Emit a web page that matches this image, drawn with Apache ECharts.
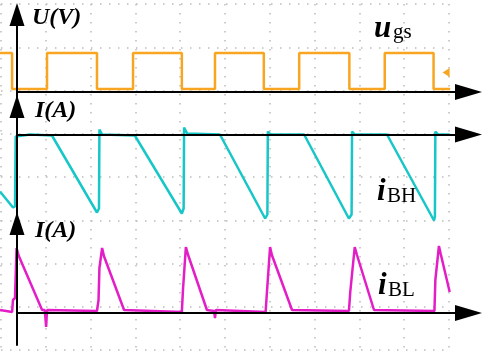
<!DOCTYPE html>
<html>
<head>
<meta charset="utf-8">
<style>
  html, body { margin: 0; padding: 0; background: #fff; }
  #chart { width: 484px; height: 354px; }
</style>
<script src="https://cdn.jsdelivr.net/npm/echarts@6/dist/echarts.min.js"></script>
</head>
<body>
<div id="chart"></div>
<script>
// time in us (10 us/div)
const ugsTime = [-3.8, -1.1, -1.1, 6.7, 6.7, 17.85, 17.85, 25.9, 25.9, 36.8, 36.8, 44.2, 44.2, 55.1, 55.1, 63.0, 63.0, 74.2, 74.2, 82.1, 82.1, 93.0, 93.0, 96.7];
const ugsVolt = [9.75, 9.75, 0.75, 0.75, 9.75, 9.75, 0.75, 0.75, 9.75, 9.75, 0.75, 0.75, 9.75, 9.75, 0.75, 0.75, 9.75, 9.75, 0.75, 0.75, 9.75, 9.75, 0.75, 0.75];

const ibhTime = [-3.8, -0.9, -0.45, -0.3, 3.0, 7.8, 17.85, 18.3, 18.4, 19.0, 26.3, 36.8, 37.2, 37.3, 38.0, 45.3, 55.4, 55.9, 56.0, 56.6, 64.1, 74.1, 74.7, 74.8, 75.4, 82.6, 93.1, 93.3, 93.4, 94.0, 96.6];
const ibhAmp = [-2.85, -3.65, -3.6, -0.1, 0.0, -0.05, -3.9, -3.7, 0.25, 0.0, -0.05, -3.95, -3.7, 0.35, 0.05, 0.0, -4.2, -4.0, 0.15, 0.0, 0.0, -4.2, -4.0, 0.15, 0.0, 0.0, -4.3, -4.1, 0.15, 0.0, 0.0];

const iblTime = [-3.8, -1.1, -0.9, -0.45, -0.1, 0.4, 5.6, 6.2, 6.5, 6.7, 17.85, 18.2, 18.4, 19.0, 19.4, 23.9, 36.8, 37.05, 37.7, 38.2, 42.4, 44.0, 44.2, 44.4, 55.5, 55.8, 56.5, 56.9, 61.4, 74.1, 74.4, 75.4, 75.9, 79.7, 93.2, 93.4, 94.2, 94.6, 96.6];
const iblAmp = [0.15, 0.05, 0.65, 0.75, 3.25, 2.85, 0.15, 0.15, -0.7, 0.15, 0.1, 0.65, 2.25, 3.25, 2.85, 0.15, 0.05, 1.15, 3.3, 2.9, 0.15, 0.1, -0.25, 0.15, 0.05, 1.05, 3.3, 2.9, 0.15, 0.1, 1.05, 3.3, 2.9, 0.15, 0.1, 1.65, 3.35, 2.95, 1.05];

// scope markers: trigger position and channel 1 level
const triggerMark = [63.2, 21.4];
const ch1LevelMark = [95.8, 4.9];

// y ranges of the three panels
const uRange = [-3.6, 19.4];
const ibhRange = [-4.45, 1.4];
const iblRange = [-1.6, 4.475];

const zip = (t, v) => t.map((x, i) => [x, v[i]]);

const serif = '"Liberation Serif", "Times New Roman", serif';
const axisStyle = { color: '#000', width: 2 };
const off = { show: false };

// the screen grid starts left of the drawn axes, so traces get their own hidden axes
const traceX = (grid) => ({ type: 'value', gridIndex: grid, min: -3.8, max: 100.8, axisLine: off, axisLabel: off, axisTick: off, splitLine: off });
const traceY = (grid, r) => ({ type: 'value', gridIndex: grid, min: r[0], max: r[1], axisLine: off, axisLabel: off, axisTick: off, splitLine: off });

const panelX = (grid) => ({
  type: 'value',
  gridIndex: grid,
  min: 0,
  max: 100.8,
  z: 5,
  axisLine: { onZero: true, lineStyle: axisStyle, symbol: ['none', 'triangle'], symbolSize: [16, 27] },
  axisLabel: off,
  axisTick: off,
  splitLine: off,
});
const panelY = (grid, r) => ({
  type: 'value',
  gridIndex: grid,
  min: r[0],
  max: r[1],
  z: 5,
  axisLine: { onZero: false, lineStyle: axisStyle, symbol: ['none', 'triangle'], symbolSize: [15, 23] },
  axisLabel: off,
  axisTick: off,
  splitLine: off,
});
const trace = (idx, data, color) => ({
  type: 'line',
  xAxisIndex: idx,
  yAxisIndex: idx,
  data,
  showSymbol: false,
  clip: false,
  z: 2,
  lineStyle: { color, width: 2.5 },
});

const dots = { show: true, lineStyle: { color: '#bcbcbc', width: 1.5, type: [1.5, 7.5] } };
const label = (x, y, text, font) => ({
  type: 'text', x, y, z: 10,
  style: { text, font, fill: '#000', verticalAlign: 'middle', align: 'left' },
});

const chart = echarts.init(document.getElementById('chart'));
chart.setOption({
  animation: false,
  grid: [
    { left: 0, width: 468.5, top: 14.5, height: 92 },
    { left: 0, width: 468.5, top: 106.5, height: 117 },
    { left: 0, width: 468.5, top: 223.5, height: 121.5 },
    { left: 17, width: 451.5, top: 14.5, height: 92 },
    { left: 17, width: 451.5, top: 106.5, height: 117 },
    { left: 17, width: 451.5, top: 223.5, height: 121.5 },
    { left: 1, top: 4, width: 448, height: 346 },
  ],
  xAxis: [
    traceX(0), traceX(1), traceX(2),
    panelX(3), panelX(4), panelX(5),
    { type: 'value', gridIndex: 6, min: 0, max: 10, interval: 1, z: 0,
      axisLine: off, axisLabel: off, axisTick: off, splitLine: dots },
  ],
  yAxis: [
    traceY(0, uRange), traceY(1, ibhRange), traceY(2, iblRange),
    panelY(3, uRange), panelY(4, ibhRange), panelY(5, iblRange),
    { type: 'value', gridIndex: 6, min: 0, max: 8, interval: 1, z: 0,
      axisLine: off, axisLabel: off, axisTick: off, splitLine: dots },
  ],
  series: [
    {
      ...trace(0, zip(ugsTime, ugsVolt), '#f8a621'),
      markPoint: {
        silent: true,
        label: off,
        data: [
          { coord: triggerMark, symbol: 'path://M4,0 L6,0 L6,6 L10,6 L5,12 L0,6 L4,6 Z', symbolSize: [10, 13], itemStyle: { color: '#000' } },
          { coord: ch1LevelMark, symbol: 'path://M0,5 L8,0 L8,10 Z', symbolSize: [7, 9], itemStyle: { color: '#f8a621' } },
        ],
      },
    },
    trace(1, zip(ibhTime, ibhAmp), '#17c6c6'),
    trace(2, zip(iblTime, iblAmp), '#e31ec6'),
  ],
  graphic: [
    label(32, 18, 'U(V)', 'italic bold 24px ' + serif),
    label(35, 111, 'I(A)', 'italic bold 24px ' + serif),
    label(35, 231, 'I(A)', 'italic bold 24px ' + serif),
    label(374, 29, 'u', 'italic bold 31px ' + serif),
    label(393, 32, 'gs', '21px ' + serif),
    label(377, 192, 'i', 'italic bold 31px ' + serif),
    label(387, 196, 'BH', '21px ' + serif),
    label(378, 286, 'i', 'italic bold 31px ' + serif),
    label(388, 290, 'BL', '21px ' + serif),
  ],
});
</script>
</body>
</html>
